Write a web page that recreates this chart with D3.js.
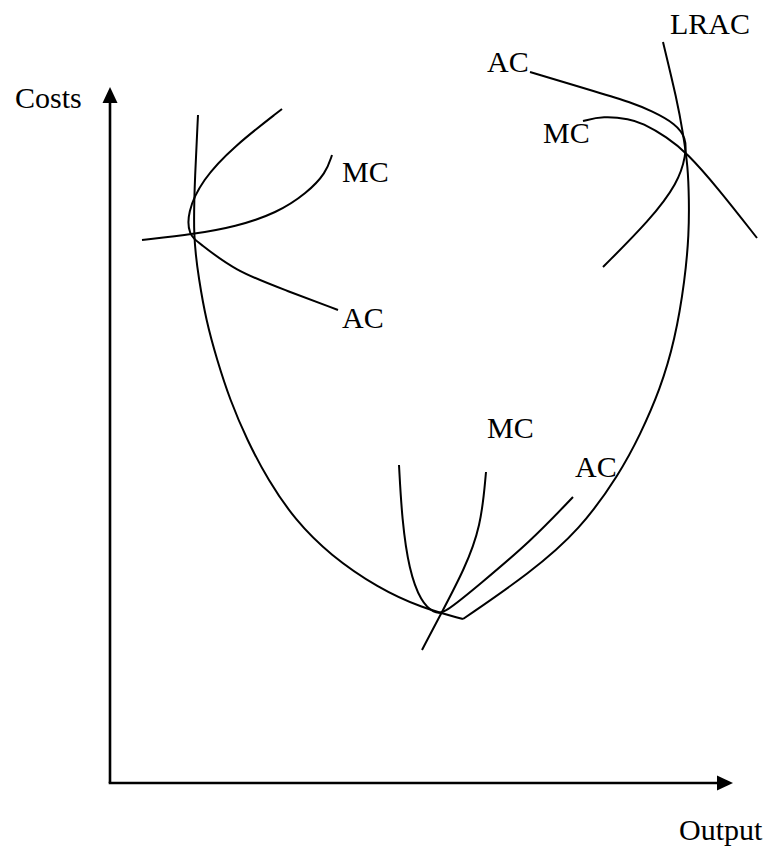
<!DOCTYPE html>
<html>
<head>
<meta charset="utf-8">
<script src="https://cdn.jsdelivr.net/npm/d3@7"></script>
<style>
  html, body { margin: 0; padding: 0; background: #fff; }
  svg text { font-family: "Liberation Serif", "Times New Roman", serif; font-size: 30px; fill: #000; }
</style>
</head>
<body>
<svg id="chart" width="770" height="851"></svg>
<script>
// Long-run average cost envelope (two parts meeting at a kink at its minimum)
const lracLeft = [[88,668],[85,608],[83,546],[89,503],[96,463],[107,423],[120,383],[137,343],[158,303],[185,263],[220,228],[268,195],[312,175],[353,164]];
const lracRight = [[353,164],[420,210],[470,253],[510,310],[530,348],[550,393],[565,443],[575,503],[579,550],[579,583],[578,616],[573,650],[567,683],[553,741]];
// Short-run plant 1 (small scale)
const ac1 = [[172,674],[123,636],[92,603],[77,570],[79,548],[88,541],[125,512],[175,493],[228,473]];
const mc1 = [[32,543],[85,549],[125,556],[167,570],[197,590],[216,610],[222,628]];
// Short-run plant 2 (optimal scale)
const ac2 = [[289,318],[292,263],[299,213],[311,181],[324,170],[334,169],[370,199],[420,241],[463,286]];
const mc2 = [[376,311],[371,256],[354,213],[333,173],[312,133]];
// Short-run plant 3 (large scale)
const ac3 = [[420,711],[490,690],[520,681],[542,672],[566,659],[576,645],[576,628],[568,600],[540,563],[493,516]];
const mc3 = [[473,662],[493,667],[520,664],[532,660],[557,646],[577,630],[607,596],[647,545]];
// Text labels
const curveLabels = [
  {text: "LRAC", x: 560, y: 749},
  {text: "AC", x: 377, y: 711},
  {text: "MC", x: 433, y: 640},
  {text: "MC", x: 232, y: 601},
  {text: "AC", x: 232, y: 455},
  {text: "MC", x: 377, y: 345},
  {text: "AC", x: 465, y: 306}
];
const axisLabels = [
  {text: "Costs", x: -95, y: 675},
  {text: "Output", x: 569, y: -57}
];
const axisExtent = {x: 623, y: 696};

const svg = d3.select("#chart");
const x = d3.scaleLinear().domain([0, 600]).range([110, 710]);
const y = d3.scaleLinear().domain([0, 700]).range([783, 83]);

const line = d3.line().x(d => x(d[0])).y(d => y(d[1])).curve(d3.curveBasis);

[lracLeft, lracRight, ac1, mc1, ac2, mc2, ac3, mc3].forEach(pts => {
  svg.append("path").attr("d", line(pts))
    .attr("fill", "none").attr("stroke", "#000").attr("stroke-width", 2)
    .attr("stroke-linecap", "butt");
});

// Axes
const head = 16, half = 7.5;
svg.append("line")
  .attr("x1", x(0)).attr("y1", y(0))
  .attr("x2", x(0)).attr("y2", y(axisExtent.y) + head - 1)
  .attr("stroke", "#000").attr("stroke-width", 2.6);
svg.append("path")
  .attr("d", `M${x(0)},${y(axisExtent.y)} L${x(0)-half},${y(axisExtent.y)+head} L${x(0)+half},${y(axisExtent.y)+head} Z`)
  .attr("fill", "#000");
svg.append("line")
  .attr("x1", x(0) - 1.3).attr("y1", y(0))
  .attr("x2", x(axisExtent.x) - head + 1).attr("y2", y(0))
  .attr("stroke", "#000").attr("stroke-width", 2.6);
svg.append("path")
  .attr("d", `M${x(axisExtent.x)},${y(0)} L${x(axisExtent.x)-head},${y(0)-half} L${x(axisExtent.x)-head},${y(0)+half} Z`)
  .attr("fill", "#000");

svg.selectAll("text.lab").data(curveLabels.concat(axisLabels)).enter()
  .append("text").attr("class", "lab")
  .attr("x", d => x(d.x)).attr("y", d => y(d.y))
  .text(d => d.text);
</script>
</body>
</html>
